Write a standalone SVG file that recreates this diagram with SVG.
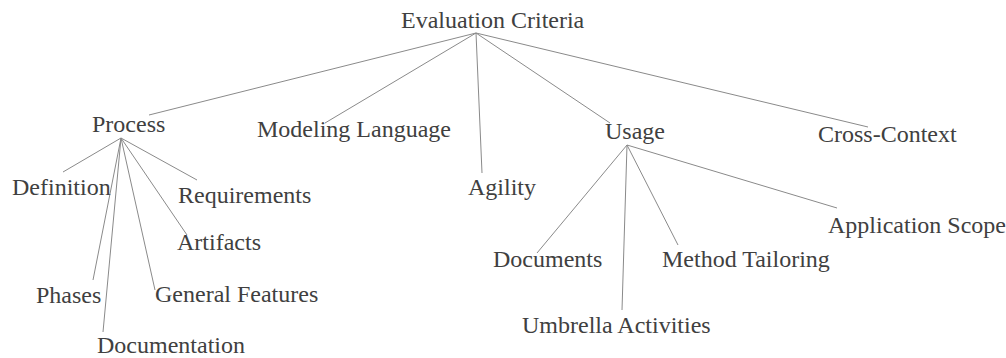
<svg xmlns="http://www.w3.org/2000/svg" width="1006" height="358" viewBox="0 0 1006 358">
  <style>
    .label { font-family: "Liberation Serif", "Times New Roman", serif; font-size: 24px; fill: #404040; }
    .edge { stroke: #8a8a8a; stroke-width: 1; fill: none; }
  </style>
  <rect width="1006" height="358" fill="#ffffff"/>

  <!-- tree edges -->
  <g id="connectors">
    <!-- root to first level -->
    <line class="edge" x1="476" y1="33" x2="149" y2="115"/>
    <line class="edge" x1="476" y1="33" x2="325" y2="123"/>
    <line class="edge" x1="476" y1="33" x2="482" y2="173"/>
    <line class="edge" x1="476" y1="33" x2="610" y2="123"/>
    <line class="edge" x1="476" y1="33" x2="868" y2="127"/>
    <!-- Process branch -->
    <line class="edge" x1="121" y1="138" x2="63" y2="172"/>
    <line class="edge" x1="121" y1="138" x2="197" y2="180"/>
    <line class="edge" x1="121" y1="138" x2="187" y2="235"/>
    <line class="edge" x1="121" y1="138" x2="93" y2="280"/>
    <line class="edge" x1="121" y1="138" x2="155" y2="290"/>
    <line class="edge" x1="121" y1="138" x2="103" y2="332"/>
    <!-- Usage branch -->
    <line class="edge" x1="627" y1="145" x2="537" y2="253"/>
    <line class="edge" x1="627" y1="145" x2="622" y2="310"/>
    <line class="edge" x1="627" y1="145" x2="678" y2="245"/>
    <line class="edge" x1="627" y1="145" x2="837" y2="208"/>
  </g>

  <g id="node-evaluation-criteria"><text class="label" x="401" y="28">Evaluation Criteria</text></g>
  <g id="node-process"><text class="label" x="92" y="132">Process</text></g>
  <g id="node-modeling-language"><text class="label" x="257" y="137">Modeling Language</text></g>
  <g id="node-agility"><text class="label" x="468" y="195">Agility</text></g>
  <g id="node-usage"><text class="label" x="605" y="139">Usage</text></g>
  <g id="node-cross-context"><text class="label" x="818" y="142">Cross-Context</text></g>

  <g id="node-definition"><text class="label" x="12" y="195">Definition</text></g>
  <g id="node-requirements"><text class="label" x="178" y="203">Requirements</text></g>
  <g id="node-artifacts"><text class="label" x="177" y="250">Artifacts</text></g>
  <g id="node-phases"><text class="label" x="36" y="303">Phases</text></g>
  <g id="node-general-features"><text class="label" x="155" y="302">General Features</text></g>
  <g id="node-documentation"><text class="label" x="97" y="353">Documentation</text></g>

  <g id="node-documents"><text class="label" x="493" y="267">Documents</text></g>
  <g id="node-umbrella-activities"><text class="label" x="522" y="333">Umbrella Activities</text></g>
  <g id="node-method-tailoring"><text class="label" x="662" y="267">Method Tailoring</text></g>
  <g id="node-application-scope"><text class="label" x="828" y="233">Application Scope</text></g>
</svg>
